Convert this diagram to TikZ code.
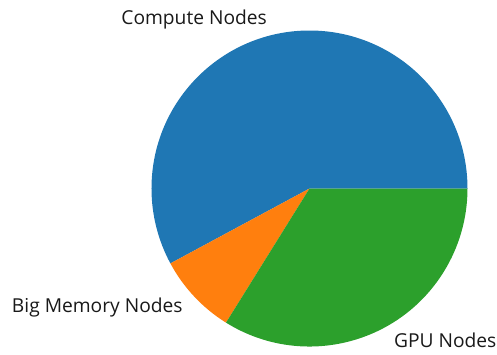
\documentclass[tikz,border=0pt]{standalone}
\usepackage{fontspec}
\setmainfont{Open Sans}
\definecolor{tabblue}{HTML}{1F77B4}
\definecolor{taborange}{HTML}{FF7F0E}
\definecolor{tabgreen}{HTML}{2CA02C}
\tikzset{
  wedge/.style={line width=0pt},
  plabel/.style={inner sep=0pt,text=black!90,font=\fontsize{19.2}{23}\selectfont}
}
\begin{document}
\begin{tikzpicture}[x=1pt,y=1pt]
    \useasboundingbox (-309.5,-165.5) rectangle (187.5,188.5);
    \coordinate (c) at (0,0);
    % slices, counterclockwise from 0 deg
    \fill[tabblue,wedge] (c) -- (0:158) arc[start angle=0,end angle=208.3,radius=158] -- cycle;
    \fill[taborange,wedge] (c) -- (208.3:158) arc[start angle=208.3,end angle=238.1,radius=158] -- cycle;
    \fill[tabgreen,wedge] (c) -- (238.1:158) arc[start angle=238.1,end angle=360,radius=158] -- cycle;
    % labels at 1.1 r
    \node[plabel,anchor=east] (compute) at (104.15:173.8) {Compute Nodes};
    \node[plabel,anchor=east] (bigmem) at (223.2:173.8) {Big Memory Nodes};
    \node[plabel,anchor=west] (gpu) at (299.05:173.8) {GPU Nodes};
\end{tikzpicture}
\end{document}
